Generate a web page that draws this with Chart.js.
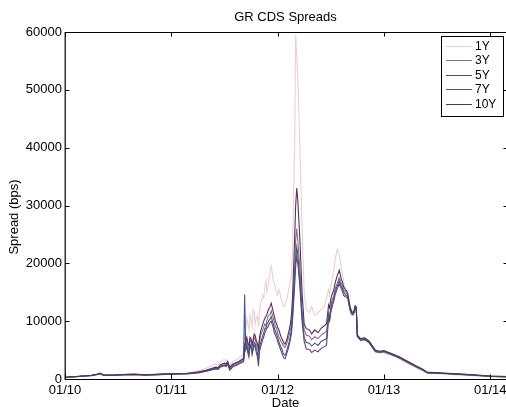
<!DOCTYPE html>
<html><head><meta charset="utf-8">
<script src="https://cdn.jsdelivr.net/npm/chart.js@4/dist/chart.umd.min.js"></script>
<style>html,body{margin:0;padding:0;overflow:hidden;background:#fff}#wrap{width:510px;height:407px}</style>
</head><body><div id="wrap"><canvas id="c" width="510" height="407"></canvas></div>
<script>
const chartTitle = 'GR CDS Spreads';
const xTitle = 'Date';
const yTitle = 'Spread (bps)';
const seriesNames = ['1Y', '3Y', '5Y', '7Y', '10Y'];
const xTickYears = [2010, 2011, 2012, 2013, 2014];
const xTickLabels = ['01/10', '01/11', '01/12', '01/13', '01/14'];
const yTicks = [0, 10000, 20000, 30000, 40000, 50000, 60000];

const dates = [
2010.00,2010.05,2010.10,2010.15,2010.20,2010.25,2010.30,2010.33,2010.36,2010.45,
2010.55,2010.65,2010.75,2010.85,2010.95,2011.05,2011.15,2011.25,2011.32,2011.38,
2011.42,2011.44,2011.46,2011.50,2011.515,2011.53,2011.55,2011.58,2011.62,2011.65,
2011.68,2011.69,2011.70,2011.71,2011.72,2011.73,2011.74,2011.75,2011.76,2011.77,
2011.78,2011.79,2011.80,2011.81,2011.82,2011.83,2011.84,2011.86,2011.87,2011.88,
2011.89,2011.90,2011.91,2011.92,2011.93,2011.94,2011.96,2011.97,2011.98,2011.99,
2012.00,2012.01,2012.02,2012.03,2012.04,2012.05,2012.06,2012.07,2012.08,2012.09,
2012.10,2012.11,2012.12,2012.13,2012.14,2012.16,2012.17,2012.18,2012.19,2012.21,
2012.23,2012.25,2012.27,2012.30,2012.32,2012.35,2012.38,2012.41,2012.44,2012.46,
2012.48,2012.49,2012.50,2012.51,2012.52,2012.53,2012.54,2012.55,2012.56,2012.57,
2012.58,2012.59,2012.60,2012.61,2012.62,2012.63,2012.64,2012.65,2012.66,2012.67,
2012.68,2012.69,2012.70,2012.71,2012.72,2012.73,2012.74,2012.75,2012.78,2012.82,
2012.86,2012.89,2012.92,2012.96,2013.00,2013.03,2013.06,2013.10,2013.15,2013.20,
2013.25,2013.31,2013.37,2013.41,2013.50,2013.60,2013.70,2013.80,2013.90,2014.00,
2014.10,2014.17];

const cds1Y = [
200,300,350,500,550,650,900,1100,750,650,
800,850,700,800,900,950,1000,1400,1800,2300,
2600,2400,3000,3400,3100,3300,2400,3000,3400,3800,
4300,7500,8000,10500,9500,8500,11000,10000,9000,12000,
11500,9500,10500,11000,9000,11500,13000,14500,14000,16000,
17000,15000,16000,17500,18500,19500,17000,16500,15500,15000,
14500,15500,15000,14000,13500,13000,12500,12800,13500,14000,
15000,16000,17000,18000,22000,40000,59500,56000,52000,40000,
26000,15000,12000,11500,12500,11000,11500,12000,12500,14000,
15500,14500,16000,17000,18000,19000,20500,21500,22400,22000,
21500,20500,19000,18000,17000,16000,15500,14800,14000,13500,
13000,12000,11000,11000,11500,12200,12000,7800,6500,6800,
6200,5500,4700,4500,4500,4300,4200,3900,3400,2900,
2400,1800,1300,1000,900,850,700,600,500,400,
350,320];

const cds3Y = [
250,350,400,480,560,620,800,950,700,680,
760,820,720,780,860,920,960,1200,1450,1800,
2000,1900,2400,2700,2500,2900,1900,2500,2800,3100,
3400,5500,6000,6800,5600,5000,6800,6400,5500,6200,
7200,6800,6000,5500,4800,6500,7500,8500,9000,9500,
9200,10200,10800,11000,11200,11800,10500,9800,9000,8800,
8000,7400,7000,6600,6200,5900,5600,5500,5800,6400,
7000,7600,8500,9500,12000,19000,24000,26000,24000,19000,
12000,8500,7600,7400,6800,7300,7000,7600,8000,8200,
11500,11000,12500,13500,14000,14500,15500,16000,16500,17000,
17500,17000,16500,16200,15500,15200,15000,14800,14500,13500,
12500,11800,11500,11400,11800,12500,12300,7600,6900,7000,
6500,5700,4900,4700,4800,4600,4400,4100,3700,3200,
2700,2100,1550,1100,1050,950,850,750,620,500,
420,400];

const cds5Y = [
250,330,380,450,520,580,750,900,650,620,
700,760,650,720,800,850,880,1050,1300,1550,
1750,1650,2050,2300,2150,2500,1500,2100,2400,2700,
3000,4800,5000,5600,4500,3800,5800,5400,4200,5000,
5800,5500,4500,3800,2200,4800,5500,6800,7300,8000,
8400,8800,9000,9500,9800,10000,8800,8000,7500,7200,
6500,6000,5500,5000,4500,4000,3600,3500,4000,4600,
5200,6000,6800,7800,10000,16000,19500,21300,20000,16000,
10000,6500,5200,5100,4600,5000,4700,5300,5600,5800,
10500,10000,11500,12200,13000,13500,14500,15000,15500,16000,
16500,16000,15500,15200,14500,14300,14200,14100,14000,13000,
12000,11400,11200,11100,11500,12200,12100,7300,6700,6800,
6300,5500,4700,4600,4700,4500,4300,4000,3600,3100,
2600,2050,1500,1050,1000,900,800,700,580,450,
380,360];

const cds7Y = [
280,350,400,470,540,600,780,920,680,650,
730,790,680,750,830,880,920,1100,1350,1650,
1850,1750,2200,2450,2300,2700,1700,2300,2600,2900,
3200,14600,5200,5900,5000,4400,6000,5700,4800,5500,
6300,6000,5200,4600,3500,5500,6200,7500,8000,8700,
8800,9500,9800,10200,10400,10800,9500,8800,8200,7800,
7200,6600,6000,5600,5200,4600,4200,4100,4500,5100,
5800,6500,7300,8500,11000,17500,21000,22800,21500,17000,
11000,7200,6300,6200,5700,6200,5800,6500,6800,7000,
11000,10500,12000,12800,13500,14000,15000,15500,16000,16500,
17000,16500,16000,15700,15000,14800,14500,14400,14200,13200,
12200,11600,11300,11200,11600,12300,12200,7400,6800,6900,
6400,5600,4800,4650,4750,4550,4350,4050,3650,3150,
2650,2100,1550,1080,1020,920,820,720,600,470,
400,380];

const cds10Y = [
300,380,420,500,560,640,820,980,720,700,
780,850,730,800,880,950,1000,1200,1450,1800,
2050,1950,2450,2750,2600,3000,2000,2600,2900,3200,
3600,6000,6500,7200,6200,5800,7200,7000,6000,6800,
7800,7500,6600,6200,5200,7200,8200,9500,10000,10500,
10800,11200,11800,12200,12600,13100,11500,10800,10000,9600,
9000,8600,8000,7400,7000,6600,6200,6000,6500,7000,
7800,8600,9500,11000,14000,24000,30000,33000,31000,24000,
15000,9500,8700,8500,7800,8500,8000,8800,9200,9600,
12800,12300,13800,14500,15000,15500,16500,17200,17800,18300,
18800,18000,17200,16800,16000,15700,15400,15200,14800,13700,
12600,12000,11600,11500,11900,12700,12500,7600,7000,7100,
6600,5800,5000,4800,4900,4700,4500,4200,3800,3300,
2800,2200,1650,1150,1100,980,880,780,650,520,
450,420];

const seriesValues = [cds1Y, cds3Y, cds5Y, cds7Y, cds10Y];
const seriesColors = ['#ebcfd1', '#8f6f8c', '#6a4468', '#3a5890', '#573456'];

const FONT = "'Liberation Sans', Arial, Helvetica, sans-serif";

const datasets = seriesNames.map((name, k) => ({
  label: name,
  data: dates.map((d, i) => ({ x: d, y: seriesValues[k][i] })),
  borderColor: seriesColors[k],
  backgroundColor: seriesColors[k],
  borderWidth: 1.1,
  pointRadius: 0,
  tension: 0,
  fill: false,
  order: seriesNames.length - 1 - k
}));

const decorPlugin = {
  id: 'decor',
  afterDraw(chart) {
    const ctx = chart.ctx;
    const a = chart.chartArea;
    const xs = chart.scales.x, ys = chart.scales.y;
    ctx.save();
    ctx.strokeStyle = '#000';
    ctx.lineWidth = 1.2;
    ctx.beginPath();
    ctx.moveTo(a.left, a.bottom + 0.5); ctx.lineTo(a.right, a.bottom + 0.5);
    ctx.moveTo(a.left, a.top + 0.5); ctx.lineTo(a.right, a.top + 0.5);
    ctx.moveTo(a.left + 0.2, a.top); ctx.lineTo(a.left + 0.2, a.bottom + 1);
    ctx.moveTo(a.right - 0.5, a.top); ctx.lineTo(a.right - 0.5, a.bottom + 1);
    ctx.stroke();
    ctx.lineWidth = 1;
    ctx.beginPath();
    const tl = 4.5;
    yTicks.forEach(v => {
      const y = Math.round(ys.getPixelForValue(v)) + 0.5;
      ctx.moveTo(a.left, y); ctx.lineTo(a.left + tl, y);
      ctx.moveTo(a.right, y); ctx.lineTo(a.right - tl, y);
    });
    xTickYears.forEach(v => {
      const x = Math.round(xs.getPixelForValue(v)) + 0.5;
      ctx.moveTo(x, a.bottom); ctx.lineTo(x, a.bottom - tl);
      ctx.moveTo(x, a.top); ctx.lineTo(x, a.top + tl);
    });
    ctx.stroke();
    ctx.fillStyle = '#000';
    ctx.font = '13px ' + FONT;
    ctx.textAlign = 'center';
    ctx.textBaseline = 'middle';
    ctx.fillText(chartTitle, (a.left + 506) / 2, 17);
    ctx.textBaseline = 'top';
    ctx.fillText(xTitle, (a.left + 506) / 2, 397);
    ctx.save();
    ctx.translate(14, 217);
    ctx.rotate(-Math.PI / 2);
    ctx.textBaseline = 'middle';
    ctx.fillText(yTitle, 0, 0);
    ctx.restore();
    const bx = 441, by = 36, bw = 62, bh = 80;
    ctx.fillStyle = '#fff';
    ctx.fillRect(bx, by, bw, bh);
    ctx.strokeStyle = '#000';
    ctx.lineWidth = 1;
    ctx.strokeRect(bx + 0.5, by + 0.5, bw, bh);
    ctx.font = '12px ' + FONT;
    ctx.textAlign = 'left';
    ctx.textBaseline = 'middle';
    chart.data.datasets.forEach((ds, i) => {
      const yy = Math.round(45.5 + i * 14.5) + 0.5;
      ctx.strokeStyle = ds.borderColor;
      ctx.beginPath();
      ctx.moveTo(446, yy); ctx.lineTo(472, yy);
      ctx.stroke();
      ctx.fillStyle = '#000';
      ctx.fillText(ds.label, 475, yy + 0.5);
    });
    ctx.restore();
  }
};

new Chart(document.getElementById('c'), {
  type: 'line',
  data: { datasets },
  options: {
    responsive: false,
    animation: false,
    devicePixelRatio: 1,
    layout: { padding: { top: 32, left: 0, right: 2, bottom: 0 } },
    plugins: { legend: { display: false }, title: { display: false }, tooltip: { enabled: false } },
    scales: {
      x: {
        type: 'linear',
        min: 2010,
        max: 2014.1675,
        afterBuildTicks(scale) { scale.ticks = xTickYears.map(v => ({ value: v })); },
        afterFit(scale) { scale.height = 28; scale.paddingLeft = 0; scale.paddingRight = 0; },
        grid: { display: false, drawTicks: false },
        border: { display: false },
        ticks: {
          autoSkip: false, maxRotation: 0, padding: 4, color: '#000',
          font: { size: 13, family: FONT },
          callback(v) { const i = xTickYears.indexOf(v); return i >= 0 ? xTickLabels[i] : ''; }
        }
      },
      y: {
        min: 0,
        max: 60000,
        afterBuildTicks(scale) { scale.ticks = yTicks.map(v => ({ value: v })); },
        afterFit(scale) { scale.width = 65; scale.paddingTop = 0; scale.paddingBottom = 0; },
        grid: { display: false, drawTicks: false },
        border: { display: false },
        ticks: {
          padding: 3, color: '#000',
          font: { size: 13, family: FONT },
          callback(v) { return String(v); }
        }
      }
    }
  },
  plugins: [decorPlugin]
});
</script>
</body></html>
